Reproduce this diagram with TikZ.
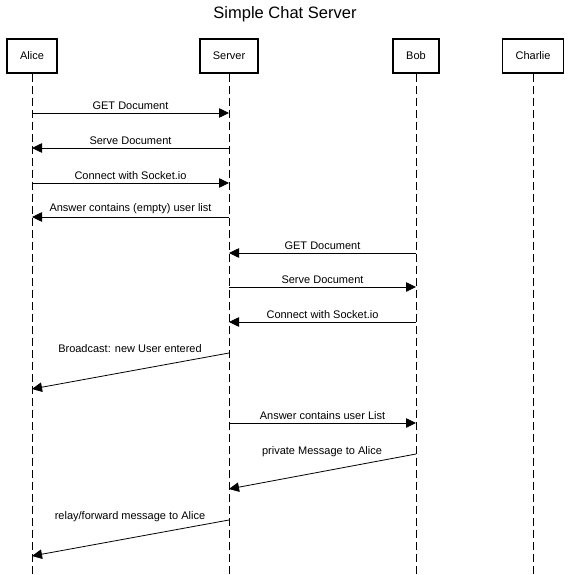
\documentclass[tikz,border=0pt]{standalone}
\usepackage{fontspec}
\setmainfont{Liberation Sans}
\usetikzlibrary{arrows.meta}
\tikzset{
  actor/.style={draw, line width=1.6pt, minimum height=34pt, inner xsep=13pt,
    font=\fontsize{11}{13}\selectfont},
  lifeline/.style={dash pattern=on 8pt off 4pt, line width=0.8pt},
  msg/.style={-{Triangle[length=10pt,width=9.5pt]}, line width=0.8pt},
  msglabel/.style={font=\fontsize{11}{13}\selectfont, inner sep=3pt}
}
\begin{document}
\begin{tikzpicture}[x=1pt,y=-1pt]
\useasboundingbox (0,0) rectangle (570,575);
\node[font=\fontsize{16.5}{19}\selectfont] (title) at (285,14) {Simple Chat Server};

% actors
\node[actor] (alice) at (32,56) {Alice};
\node[actor] (server) at (229,56) {Server};
\node[actor] (bob) at (416,56) {Bob};
\node[actor] (charlie) at (533,56) {Charlie};

\foreach \who in {alice,server,bob,charlie}
  \draw[lifeline] (\who.south) -- (\who.south |- 0,575);

% Alice joins
\coordinate (a1) at (alice |- 0,113);  \coordinate (s1) at (server |- 0,113);
\coordinate (a2) at (alice |- 0,148);  \coordinate (s2) at (server |- 0,148);
\coordinate (a3) at (alice |- 0,183);  \coordinate (s3) at (server |- 0,183);
\coordinate (a4) at (alice |- 0,217);  \coordinate (s4) at (server |- 0,217);
\draw[msg] (a1) -- (s1) node[midway, above, msglabel] {GET Document};
\draw[msg] (s2) -- (a2) node[midway, above, msglabel] {Serve Document};
\draw[msg] (a3) -- (s3) node[midway, above, msglabel] {Connect with Socket.io};
\draw[msg] (s4) -- (a4) node[midway, above, msglabel] {Answer contains (empty) user list};

% Bob joins
\coordinate (b5) at (bob |- 0,253);  \coordinate (s5) at (server |- 0,253);
\coordinate (b6) at (bob |- 0,287);  \coordinate (s6) at (server |- 0,287);
\coordinate (b7) at (bob |- 0,322);  \coordinate (s7) at (server |- 0,322);
\draw[msg] (b5) -- (s5) node[midway, above, msglabel] {GET Document};
\draw[msg] (s6) -- (b6) node[midway, above, msglabel] {Serve Document};
\draw[msg] (b7) -- (s7) node[midway, above, msglabel] {Connect with Socket.io};

% broadcast
\coordinate (s8) at (server |- 0,353);  \coordinate (a8) at (alice |- 0,389);
\draw[msg] (s8) -- (a8);
\node[msglabel, anchor=base] (l8) at (130,352) {Broadcast: new User entered};

\coordinate (s9) at (server |- 0,423);  \coordinate (b9) at (bob |- 0,423);
\draw[msg] (s9) -- (b9) node[midway, above, msglabel] {Answer contains user List};

% private message
\coordinate (b10) at (bob |- 0,454);  \coordinate (s10) at (server |- 0,489);
\draw[msg] (b10) -- (s10);
\node[msglabel, anchor=base] (l10) at (322,454) {private Message to Alice};

\coordinate (s11) at (server |- 0,520);  \coordinate (a11) at (alice |- 0,556);
\draw[msg] (s11) -- (a11);
\node[msglabel, anchor=base] (l11) at (130,519) {relay/forward message to Alice};
\end{tikzpicture}
\end{document}
